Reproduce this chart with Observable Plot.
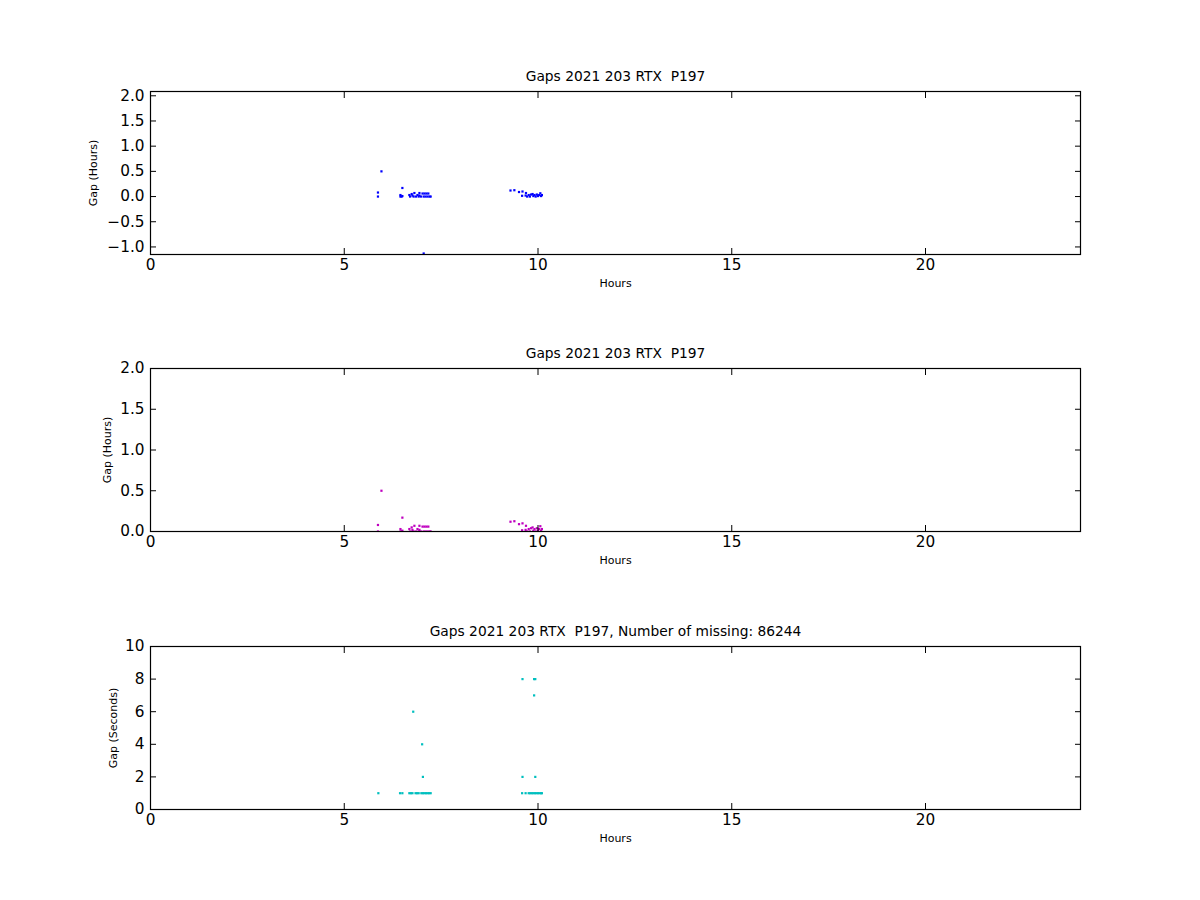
<!DOCTYPE html>
<html><head><meta charset="utf-8">
<script src="https://cdn.jsdelivr.net/npm/d3@7"></script>
<script src="https://cdn.jsdelivr.net/npm/@observablehq/plot@0.6"></script>
<style>
body{margin:0;background:#fff}
#fig{position:relative;width:1200px;height:900px;font-family:"DejaVu Sans",sans-serif;background:#fff}
#fig svg{position:absolute;left:0}
#fig text{white-space:pre}
</style>
</head><body><div id="fig"></div>
<script>
// Gap data (hours) — shared by panels 1 and 2
const hourT = [5.87,5.87,5.96,6.45,6.45,6.48,6.50,6.50,6.68,6.70,
  6.74,6.76,6.79,6.81,6.85,6.89,6.92,6.94,6.94,6.98,
  7.02,7.05,7.05,7.07,7.10,7.12,7.15,7.17,7.20,7.23,
  9.29,9.39,9.51,9.59,9.60,9.68,9.69,9.72,9.76,9.79,
  9.82,9.86,9.88,9.91,9.94,9.97,10.00,10.03,10.06,10.08,10.10];
const hourGap = [0.0,0.08,0.50,0.0,0.03,0.0,0.17,0.01,0.03,0.0,
  0.05,0.02,0.0,0.07,0.0,0.03,0.0,0.07,0.02,0.0,
  0.06,0.0,-1.13,0.06,0.0,0.06,0.0,0.06,0.0,0.0,
  0.12,0.126,0.09,0.015,0.10,0.02,0.07,0.0,0.03,0.0,
  0.04,0.05,0.01,0.03,0.0,0.04,0.01,0.03,0.065,0.01,0.03];
// Gap data (seconds) — panel 3
const secT = [5.88,6.44,6.50,6.68,6.72,6.76,6.84,6.88,6.92,6.99,7.03,7.07,7.11,7.15,7.19,7.23,
  6.78,7.01,7.03,
  9.59,9.68,9.76,9.80,9.84,9.88,9.92,9.96,10.00,10.04,10.08,10.10,
  9.60,9.90,9.93,9.90,9.60,9.93];
const secGap = [1,1,1,1,1,1,1,1,1,1,1,1,1,1,1,1,
  6,4,2,
  1,1,1,1,1,1,1,1,1,1,1,1,
  8,8,8,7,2,2];

const xTicks = [0,5,10,15,20];
const titleMain = "Gaps 2021 203 RTX  P197";
const titleMissing = "Gaps 2021 203 RTX  P197, Number of missing: 86244";
const xLabel = "Hours";

const hoursData = hourT.map((h,i)=>({h, g: hourGap[i]}));
const secData = secT.map((h,i)=>({h, g: secGap[i]}));

const fig = document.getElementById("fig");

function panel({data, color, yDomain, yTicks, yFmt, yLabel, yLabelDx, title, top}) {
  const svg = Plot.plot({
    width: 1200, height: 253,
    marginLeft: 150, marginRight: 120, marginTop: 40, marginBottom: 50,
    style: {fontFamily: "DejaVu Sans", background: "white", color: "black", overflow: "visible"},
    x: {domain: [0, 24]},
    y: {domain: yDomain},
    marks: [
      Plot.dot(data, {x: "h", y: "g", symbol: "square", r: 1.25, fill: color, clip: true}),
      Plot.axisX(xTicks, {anchor: "bottom", tickSize: -6, tickFormat: () => "", label: null}),
      Plot.axisX(xTicks, {anchor: "top", tickSize: -6, tickFormat: () => "", label: null}),
      Plot.axisX(xTicks, {anchor: "bottom", tickSize: 0, tickPadding: 5, fontSize: 15.3, label: null, tickFormat: d3.format("d")}),
      Plot.axisY(yTicks, {anchor: "left", tickSize: -6, tickFormat: () => "", label: null}),
      Plot.axisY(yTicks, {anchor: "right", tickSize: -6, tickFormat: () => "", label: null}),
      Plot.axisY(yTicks, {anchor: "left", tickSize: 0, tickPadding: 6, fontSize: 15.3, label: null, tickFormat: yFmt}),
      Plot.frame({stroke: "black", strokeWidth: 1.2}),
      Plot.text([title], {frameAnchor: "top", dy: -11, lineAnchor: "bottom", fontSize: 13.8, fill: "black"}),
      Plot.text([xLabel], {frameAnchor: "bottom", dy: 28.5, lineAnchor: "middle", fontSize: 11, fill: "black"}),
      Plot.text([yLabel], {frameAnchor: "left", dx: yLabelDx, rotate: -90, textAnchor: "middle", lineAnchor: "middle", fontSize: 11, fill: "black"})
    ]
  });
  svg.style.top = top + "px";
  fig.appendChild(svg);
}

panel({data: hoursData, color: "#0000ff", yDomain: [-1.15, 2.085],
  yTicks: [-1,-0.5,0,0.5,1,1.5,2], yFmt: d3.format(".1f"), yLabel: "Gap (Hours)", yLabelDx: -57,
  title: titleMain, top: 50.5});
panel({data: hoursData, color: "#bf00bf", yDomain: [0, 2],
  yTicks: [0,0.5,1,1.5,2], yFmt: d3.format(".1f"), yLabel: "Gap (Hours)", yLabelDx: -43,
  title: titleMain, top: 328});
panel({data: secData, color: "#00bfbf", yDomain: [0, 10],
  yTicks: [0,2,4,6,8,10], yFmt: d3.format("d"), yLabel: "Gap (Seconds)", yLabelDx: -37,
  title: titleMissing, top: 606});
</script></body></html>
